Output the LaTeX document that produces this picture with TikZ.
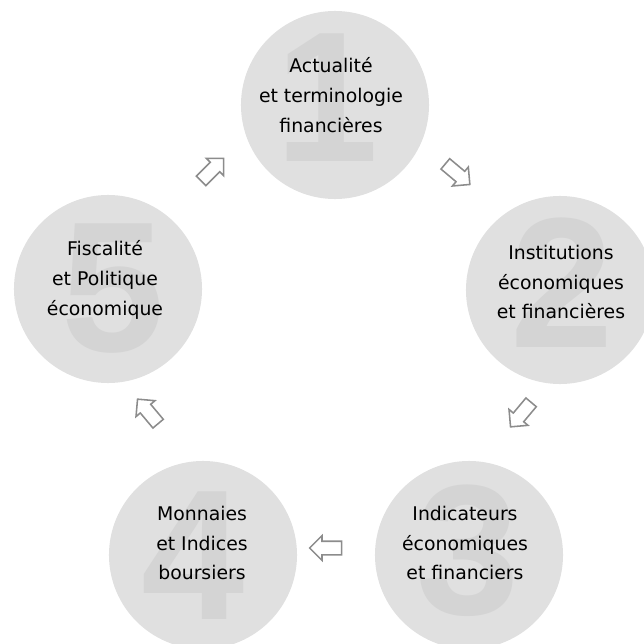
\documentclass[tikz,border=0pt]{standalone}
\usepackage{fontspec}
\setmainfont{DejaVu Sans}
\newfontfamily\digitfont{Liberation Sans}
\usetikzlibrary{shapes, calc, positioning}
\definecolor{discgray}{HTML}{E0E0E0}
\definecolor{digitgray}{HTML}{D4D4D4}
\definecolor{arrowgray}{HTML}{8C8C8C}

\begin{document}
\begin{tikzpicture}[x=0.025cm, y=-0.025cm, align=center,
  disc/.style={circle, fill=discgray, minimum size=4.7cm, inner sep=0},
  digit/.style={text=digitgray, inner sep=0, font=\digitfont\bfseries\fontsize{132}{132}\selectfont},
  caption/.style={text=black, font=\fontsize{13.4}{21.3}\selectfont},
  flow/.style={single arrow, draw=arrowgray, fill=white, line width=1.1pt,
    inner sep=0.15cm, single arrow head extend=0.14cm, minimum height=0.8cm}]
  \useasboundingbox (0,0) rectangle (644,644);

  % circles
  \node[disc] (c1) at (335,105) {};
  \node[disc] (c2) at (560,290) {};
  \node[disc] (c3) at (469,555) {};
  \node[disc] (c4) at (203,555) {};
  \node[disc] (c5) at (108,289) {};

  % big numbers
  \node[digit] (d1) at (327,98) {1};
  \node[digit] (d2) at (562,283) {2};
  \node[digit] (d3) at (468,551) {3};
  \node[digit] (d4) at (193,556) {4};
  \node[digit] (d5) at (113,289) {5};

  \node[caption] (t1) at (331,95) {Actualité\\et terminologie\\financières};
  \node[caption] (t2) at (561,282) {Institutions\\économiques\\et financières};
  \node[caption] (t3) at (465,543) {Indicateurs\\économiques\\et financiers};
  \node[caption] (t4) at (202,543) {Monnaies\\et Indices\\boursiers};
  \node[caption] (t5) at (105,280) {Fiscalité\\et Politique\\économique};

  % hollow arrows between the steps
  \node[flow, rotate=-40] (a12) at (455,172) {};
  \node[flow, rotate=-130] (a23) at (523,412) {};
  \node[flow, rotate=180] (a34) at (329,548) {};
  \node[flow, rotate=130] (a45) at (150,414) {};
  \node[flow, rotate=45] (a51) at (210,172) {};
\end{tikzpicture}
\end{document}
